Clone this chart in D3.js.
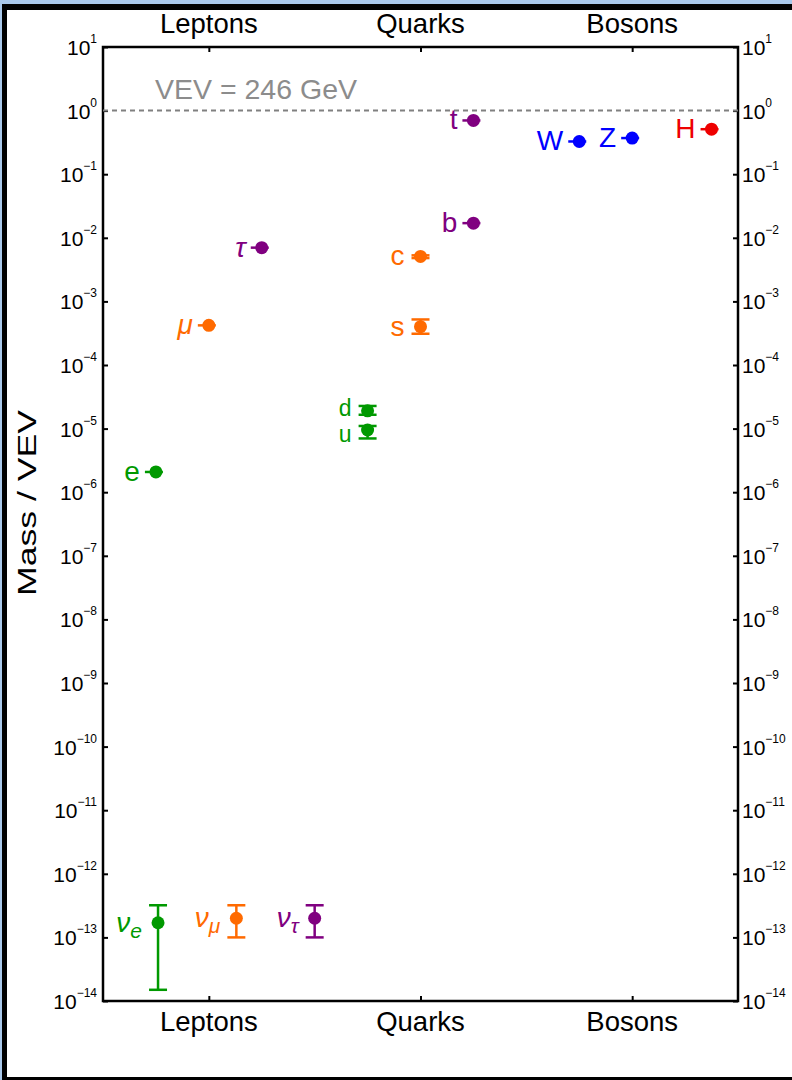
<!DOCTYPE html>
<html>
<head>
<meta charset="utf-8">
<script src="https://cdn.jsdelivr.net/npm/d3@7"></script>
<style>
  body { margin: 0; background: #fff; }
  text { font-family: "Liberation Sans", Arial, sans-serif; }
</style>
</head>
<body>
<div id="container"></div>
<script>
/* DATA */
const names   = ["e", "μ", "τ", "ν", "ν", "ν", "u", "d", "s", "c", "b", "t", "W", "Z", "H"];
const subs    = ["", "", "", "e", "μ", "τ", "", "", "", "", "", "", "", "", ""];
const italic  = [false, true, true, true, true, true, false, false, false, false, false, false, false, false, false];
const xPos    = [0.75, 1, 1.25, 0.76, 1.13, 1.5, 1.75, 1.75, 2, 2, 2.25, 2.25, 2.75, 3, 3.375];
const mass    = [2.08e-6, 4.2e-4, 7.0e-3, 1.7e-13, 2.0e-13, 2.0e-13, 9.5e-6, 1.9e-5, 4.0e-4, 5.1e-3, 1.7e-2, 0.70, 0.327, 0.37, 0.51];
const errLow  = [null, null, null, 1.5e-14, 1.0e-13, 1.0e-13, 7.0e-6, 1.65e-5, 3.1e-4, 4.8e-3, null, null, null, null, null];
const errHigh = [null, null, null, 3.2e-13, 3.2e-13, 3.2e-13, 1.1e-5, 2.27e-5, 5.2e-4, 5.3e-3, null, null, null, null, null];
const group   = ["g", "o", "p", "g", "o", "p", "g", "g", "o", "o", "p", "p", "b", "b", "r"];
const categories = ["Leptons", "Quarks", "Bosons"];
const vev = 1;
const vevLabel = "VEV = 246 GeV";

const data = names.map((n, i) => ({
  name: n, sub: subs[i], italic: italic[i], x: xPos[i], m: mass[i],
  lo: errLow[i], hi: errHigh[i], g: group[i]
}));

/* CONSTANTS */
const width = 792, height = 1080;
const margin = {top: 47, bottom: 79, left: 103, right: 54};

const colorScale = d3.scaleOrdinal()
  .domain(["g", "o", "p", "b", "r"])
  .range(["#009900", "#ff6a00", "#800080", "#0000ff", "#ee0000"]);

const xScale = d3.scaleLinear()
  .domain([0.5, 3.5])
  .range([margin.left, width - margin.right]);

const yScale = d3.scaleLog()
  .domain([1e-14, 10])
  .range([height - margin.bottom, margin.top]);

const svg = d3.select("#container")
  .append("svg")
  .attr("width", width)
  .attr("height", height);

// window frame
svg.append("rect").attr("x", 0).attr("y", 0).attr("width", width).attr("height", 5).attr("fill", "#a9c8ea");
svg.append("rect").attr("x", 0).attr("y", 0).attr("width", 2).attr("height", height).attr("fill", "#a9c8ea");
svg.append("rect").attr("x", 2).attr("y", 4).attr("width", width).attr("height", 6).attr("fill", "#000");
svg.append("rect").attr("x", 2).attr("y", 4).attr("width", 5).attr("height", height).attr("fill", "#000");
svg.append("rect").attr("x", 2).attr("y", height - 3).attr("width", width).attr("height", 3).attr("fill", "#000");

// axes (ticks point inward)
const powers = d3.range(-14, 2);
const tickVals = powers.map(p => Math.pow(10, p));

svg.append("g")
  .attr("transform", `translate(${margin.left},0)`)
  .call(d3.axisLeft(yScale).tickValues(tickVals).tickSize(-5).tickFormat(""))
  .call(g => g.select(".domain").remove())
  .call(g => g.selectAll(".tick line").attr("stroke-width", 2));

svg.append("g")
  .attr("transform", `translate(${width - margin.right},0)`)
  .call(d3.axisRight(yScale).tickValues(tickVals).tickSize(-5).tickFormat(""))
  .call(g => g.select(".domain").remove())
  .call(g => g.selectAll(".tick line").attr("stroke-width", 2));

svg.append("g")
  .attr("transform", `translate(0,${height - margin.bottom})`)
  .call(d3.axisBottom(xScale).tickValues([1, 2, 3]).tickSize(-5).tickFormat(""))
  .call(g => g.select(".domain").remove())
  .call(g => g.selectAll(".tick line").attr("stroke-width", 2));

svg.append("g")
  .attr("transform", `translate(0,${margin.top})`)
  .call(d3.axisTop(xScale).tickValues([1, 2, 3]).tickSize(-5).tickFormat(""))
  .call(g => g.select(".domain").remove())
  .call(g => g.selectAll(".tick line").attr("stroke-width", 2));

// plot frame
svg.append("rect")
  .attr("x", margin.left)
  .attr("y", margin.top)
  .attr("width", width - margin.left - margin.right)
  .attr("height", height - margin.top - margin.bottom)
  .attr("fill", "none")
  .attr("stroke", "#000")
  .attr("stroke-width", 2.5);

// tick labels 10^n
function powLabel(sel, x, anchor) {
  sel.selectAll(null)
    .data(powers)
    .join("text")
    .attr("x", x)
    .attr("y", p => yScale(Math.pow(10, p)) + 8)
    .attr("text-anchor", anchor)
    .attr("font-size", 21)
    .attr("fill", "#000")
    .each(function(p) {
      const t = d3.select(this);
      t.append("tspan").text("10");
      t.append("tspan")
        .attr("dy", -12)
        .attr("font-size", 12)
        .text(p < 0 ? "\u2212" + Math.abs(p) : String(p));
    });
}
powLabel(svg.append("g"), 97, "end");
powLabel(svg.append("g"), 742, "start");

// category labels
[margin.top - 14, height - margin.bottom + 30].forEach(y => {
  svg.append("g").selectAll("text")
    .data(categories)
    .join("text")
    .attr("x", (d, i) => xScale(i + 1))
    .attr("y", y)
    .attr("text-anchor", "middle")
    .attr("font-size", 27.5)
    .text(d => d);
});

// y label
svg.append("text")
  .attr("transform", "translate(36,503) rotate(-90)")
  .attr("text-anchor", "middle")
  .attr("font-size", 25)
  .attr("textLength", 186)
  .attr("lengthAdjust", "spacingAndGlyphs")
  .text("Mass / VEV");

// VEV line
svg.append("line")
  .attr("x1", margin.left)
  .attr("x2", width - margin.right)
  .attr("y1", yScale(vev))
  .attr("y2", yScale(vev))
  .attr("stroke", "#808080")
  .attr("stroke-width", 2)
  .attr("stroke-dasharray", "5,4");

svg.append("text")
  .attr("x", 155)
  .attr("y", yScale(vev) - 12)
  .attr("font-size", 28.5)
  .attr("fill", "#8c8c8c")
  .text(vevLabel);

// particles
const pts = svg.append("g").selectAll("g")
  .data(data)
  .join("g")
  .attr("fill", d => colorScale(d.g))
  .attr("stroke", d => colorScale(d.g));

const withErr = pts.filter(d => d.lo !== null);

withErr.append("line")
  .attr("x1", d => xScale(d.x)).attr("x2", d => xScale(d.x))
  .attr("y1", d => yScale(d.lo)).attr("y2", d => yScale(d.hi))
  .attr("stroke-width", 2.5);

withErr.append("line")
  .attr("x1", d => xScale(d.x) - 9).attr("x2", d => xScale(d.x) + 9)
  .attr("y1", d => yScale(d.lo)).attr("y2", d => yScale(d.lo))
  .attr("stroke-width", 2.5);

withErr.append("line")
  .attr("x1", d => xScale(d.x) - 9).attr("x2", d => xScale(d.x) + 9)
  .attr("y1", d => yScale(d.hi)).attr("y2", d => yScale(d.hi))
  .attr("stroke-width", 2.5);

// short stub on points without error bars
pts.filter(d => d.lo === null)
  .append("line")
  .attr("x1", d => xScale(d.x) - 11).attr("x2", d => xScale(d.x) + 7)
  .attr("y1", d => yScale(d.m)).attr("y2", d => yScale(d.m))
  .attr("stroke-width", 2.5);

pts.append("circle")
  .attr("cx", d => xScale(d.x))
  .attr("cy", d => yScale(d.m))
  .attr("r", 6.5)
  .attr("stroke", "none");

// u and d sit close together, so their labels are a bit smaller
const small = d => d.name === "u" || d.name === "d";

const lbl = pts.append("text")
  .attr("x", d => xScale(d.x) - 16)
  .attr("y", d => yScale(d.m) + (d.name === "d" ? 5 : d.name === "u" ? 12 : 9))
  .attr("text-anchor", "end")
  .attr("font-size", d => small(d) ? 23 : 28)
  .attr("stroke", "none")
  .attr("font-style", d => d.italic ? "italic" : "normal");

lbl.append("tspan").text(d => d.name);
lbl.filter(d => d.sub !== "")
  .append("tspan")
  .attr("dy", 6)
  .attr("font-size", 21)
  .text(d => d.sub);
</script>
</body>
</html>
